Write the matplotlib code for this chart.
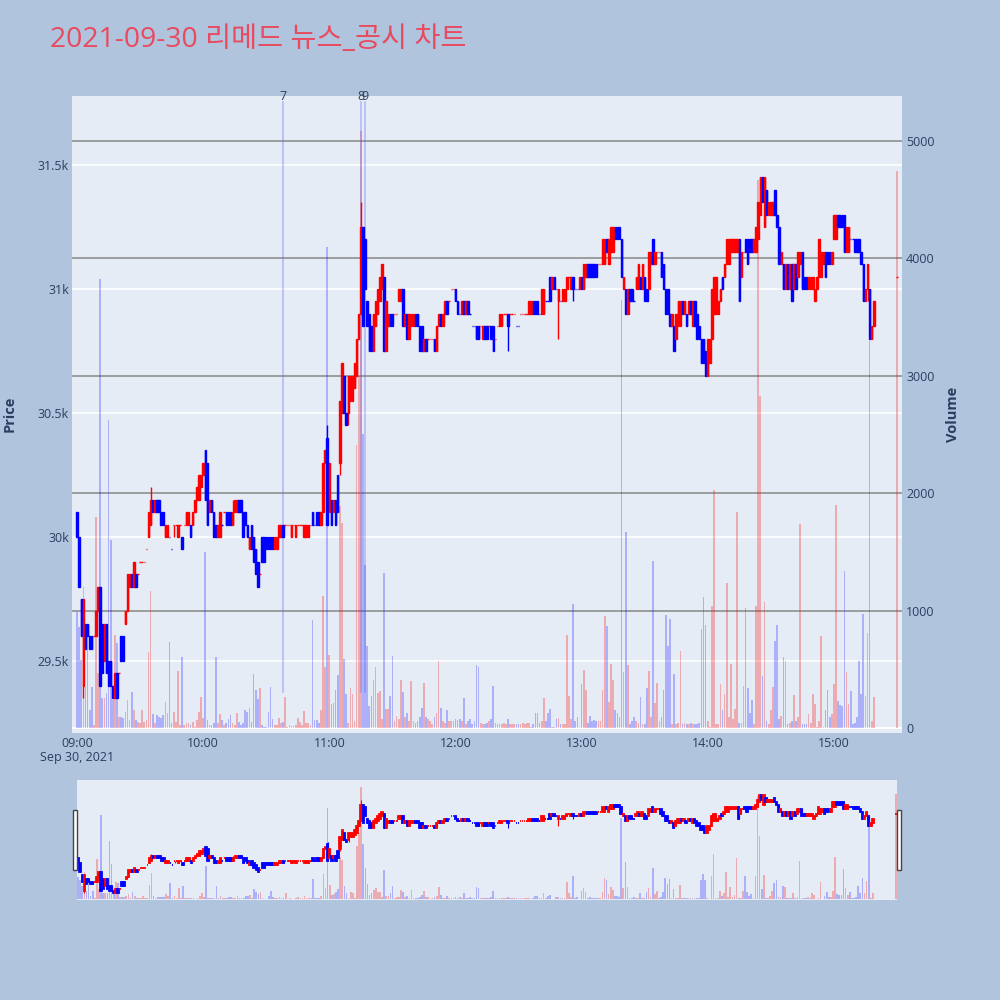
import matplotlib
matplotlib.use("Agg")
import matplotlib.pyplot as plt
import matplotlib.transforms as mtrans
from matplotlib.patches import Rectangle

plt.rcParams['font.family'] = ['Open Sans', 'Noto Sans CJK KR', 'DejaVu Sans']

# 1분봉: 09:00 부터 15:19 까지, 그리고 15:30 동시호가
minutes = list(range(380)) + [390]

opens = [
    30100, 30000, 29750, 29400, 29650, 29650, 29600, 29600, 29600, 29600,
    29700, 29800, 29650, 29500, 29650, 29500, 29500, 29400, 29350, 29450,
    29450, 29600, 29600, 29650, 29700, 29800, 29850, 29800, 29850, 29850,
    29900, 29900, 29900, 29950, 30000, 30050, 30150, 30100, 30150, 30150,
    30100, 30100, 30000, 30000, 30000, 29950, 30050, 30050, 30000, 30050,
    30000, 30050, 30050, 30050, 30050, 30050, 30100, 30150, 30150, 30200,
    30250, 30350, 30300, 30100, 30150, 30100, 30050, 30000, 30000, 30050,
    30100, 30100, 30100, 30100, 30050, 30100, 30100, 30150, 30150, 30100,
    30100, 30050, 29950, 30050, 30000, 29950, 29900, 29850, 30000, 30000,
    30000, 30000, 30000, 30000, 29950, 29950, 30000, 30000, 30050, 30050,
    30050, 30050, 30000, 30050, 30000, 30050, 30050, 30050, 30000, 30000,
    30000, 30050, 30100, 30050, 30100, 30100, 30050, 30100, 30300, 30400,
    30100, 30150, 30100, 30150, 30250, 30300, 30500, 30650, 30500, 30500,
    30550, 30550, 30600, 30650, 30800, 30900, 31250, 31200, 30950, 30900,
    30850, 30750, 30850, 30900, 30950, 31000, 31050, 30750, 30850, 30900,
    30900, 30900, 30900, 30950, 30950, 31000, 30850, 30900, 30800, 30850,
    30850, 30900, 30900, 30850, 30850, 30750, 30800, 30800, 30800, 30800,
    30800, 30750, 30850, 30900, 30850, 30900, 30950, 30950, 31000, 31000,
    31000, 30950, 30900, 30900, 30950, 30900, 30950, 30900, 30850, 30850,
    30850, 30850, 30850, 30800, 30850, 30850, 30850, 30850, 30850, 30800,
    30850, 30850, 30850, 30900, 30900, 30900, 30900, 30900, 30900, 30850,
    30850, 30900, 30900, 30900, 30900, 30900, 30900, 30950, 30950, 30950,
    30900, 30900, 30900, 30950, 30950, 31050, 31000, 31050, 31000, 30950,
    30950, 30950, 30950, 31000, 31050, 31000, 31050, 31000, 31000, 31000,
    31050, 31000, 31050, 31100, 31100, 31100, 31100, 31100, 31100, 31100,
    31100, 31100, 31200, 31100, 31150, 31150, 31250, 31250, 31250, 31200,
    31000, 31000, 30900, 31000, 31000, 30950, 31000, 31000, 31050, 31000,
    31050, 31000, 31000, 31100, 31200, 31100, 31150, 31150, 31150, 31100,
    31000, 31000, 30900, 30850, 30850, 30800, 30850, 30850, 30950, 30900,
    30900, 30900, 30950, 30850, 30950, 30900, 30850, 30800, 30800, 30750,
    30650, 30700, 30800, 30900, 30900, 30900, 30950, 31050, 31050, 31100,
    31100, 31150, 31150, 31150, 31150, 31200, 31050, 31150, 31200, 31200,
    31200, 31200, 31150, 31150, 31200, 31300, 31450, 31250, 31400, 31300,
    31300, 31300, 31400, 31300, 31250, 31100, 31100, 31000, 31100, 31000,
    31100, 31000, 31100, 31050, 31100, 31150, 31050, 31050, 31000, 31000,
    31000, 30950, 31000, 31050, 31050, 31100, 31150, 31150, 31150, 31100,
    31200, 31200, 31300, 31300, 31300, 31300, 31150, 31150, 31200, 31200,
    31200, 31200, 31200, 31150, 31100, 30950, 31000, 31000, 30800, 30850,
    31050,
]

closes = [
    30000, 29800, 29600, 29750, 29550, 29600, 29550, 29550, 29600, 29700,
    29800, 29400, 29450, 29650, 29450, 29400, 29400, 29350, 29450, 29350,
    29450, 29500, 29500, 29700, 29850, 29850, 29800, 29900, 29800, 29850,
    29900, 29900, 29900, 29950, 30100, 30150, 30100, 30150, 30100, 30100,
    30050, 30050, 30050, 30050, 30000, 29950, 30050, 30050, 30050, 30050,
    29950, 30050, 30100, 30100, 30000, 30100, 30150, 30200, 30250, 30250,
    30300, 30150, 30050, 30150, 30100, 30000, 30000, 30050, 30100, 30050,
    30100, 30050, 30050, 30050, 30100, 30150, 30150, 30100, 30100, 30000,
    30050, 30000, 30000, 29950, 29900, 29850, 29800, 29850, 29900, 29900,
    29950, 29950, 29950, 29950, 30000, 30000, 30050, 30050, 30000, 30050,
    30050, 30050, 30050, 30050, 30050, 30050, 30050, 30050, 30050, 30050,
    30050, 30050, 30050, 30050, 30050, 30050, 30100, 30300, 30350, 30050,
    30300, 30050, 30150, 30050, 30100, 30550, 30700, 30500, 30450, 30650,
    30650, 30650, 30700, 30800, 30900, 31250, 30850, 31000, 30850, 30750,
    30750, 30900, 30950, 31000, 31050, 31100, 30750, 30950, 30900, 30850,
    30850, 30900, 30900, 31000, 31000, 30850, 30900, 30800, 30900, 30900,
    30900, 30850, 30850, 30750, 30750, 30800, 30750, 30800, 30800, 30800,
    30750, 30850, 30900, 30850, 30900, 30950, 30900, 30950, 31000, 31000,
    30950, 30900, 30900, 30950, 30900, 30950, 30900, 30900, 30850, 30850,
    30800, 30800, 30850, 30850, 30800, 30800, 30850, 30800, 30750, 30800,
    30850, 30900, 30900, 30900, 30900, 30850, 30900, 30900, 30900, 30850,
    30850, 30900, 30900, 30900, 30900, 30950, 30950, 30900, 30900, 30900,
    30900, 31000, 31000, 30950, 30950, 30950, 31050, 31000, 31000, 31000,
    30950, 31000, 31000, 31050, 31050, 31050, 31000, 31000, 31000, 31050,
    31000, 31100, 31100, 31050, 31050, 31050, 31050, 31050, 31100, 31100,
    31200, 31200, 31150, 31200, 31250, 31250, 31200, 31200, 31200, 31050,
    31050, 30900, 31000, 30950, 30950, 30950, 31050, 31100, 31000, 31100,
    30950, 30950, 31150, 31150, 31100, 31150, 31150, 31150, 31050, 31000,
    30900, 30900, 30850, 30900, 30750, 30900, 30950, 30950, 30900, 30950,
    30850, 30950, 30900, 30950, 30850, 30800, 30800, 30700, 30700, 30650,
    30800, 30800, 31000, 31050, 31050, 30950, 31000, 31000, 31100, 31200,
    31200, 31200, 31200, 31200, 31200, 30950, 31150, 31150, 31150, 31100,
    31150, 31150, 31200, 31250, 31350, 31450, 31350, 31450, 31300, 31350,
    31350, 31350, 31300, 31250, 31100, 31150, 31000, 31100, 31000, 31100,
    30950, 31100, 31000, 31150, 31150, 31000, 31000, 31000, 31050, 31050,
    31050, 31000, 31050, 31200, 31150, 31150, 31050, 31100, 31100, 31150,
    31300, 31300, 31250, 31250, 31250, 31150, 31250, 31250, 31200, 31200,
    31150, 31150, 31150, 31100, 30950, 31000, 31100, 30800, 30850, 30950,
    31050,
]

# 꼬리 (몸통 밖으로 나간 고가 / 저가)
high_wicks = {3: 29750, 35: 30200, 74: 30150, 119: 30450, 135: 31350}
low_wicks = {3: 29350, 46: 30000, 125: 30250, 129: 30450, 205: 30750,
             229: 30800, 236: 30950, 376: 30950}

volumes = [
    985, 860, 580, 1204, 352, 800, 150, 352, 25, 1800,
    466, 3820, 253, 253, 295, 2624, 1600, 238, 792, 721,
    96, 96, 82, 140, 238, 68, 310, 153, 68, 54,
    40, 153, 54, 68, 650, 1167, 116, 40, 110, 96,
    82, 110, 224, 125, 730, 40, 139, 54, 489, 25,
    608, 25, 40, 45, 25, 54, 10, 68, 139, 267,
    82, 1500, 68, 25, 25, 40, 608, 40, 120, 68,
    25, 45, 74, 110, 40, 25, 125, 54, 25, 40,
    153, 139, 167, 54, 460, 324, 247, 338, 25, 12,
    12, 139, 346, 74, 25, 25, 82, 45, 54, 267,
    12, 25, 18, 18, 25, 82, 54, 25, 148, 40,
    45, 25, 920, 68, 68, 40, 153, 1120, 515, 4100,
    619, 202, 210, 323, 452, 1888, 1749, 584, 290, 40,
    340, 290, 60, 2410, 3000, 5087, 2500, 1390, 700, 184,
    271, 410, 515, 300, 313, 80, 1321, 160, 160, 270,
    612, 60, 100, 80, 410, 306, 95, 130, 60, 400,
    60, 45, 60, 95, 170, 382, 95, 80, 60, 30,
    95, 130, 567, 170, 60, 45, 150, 60, 60, 60,
    80, 70, 80, 60, 254, 35, 60, 80, 30, 60,
    532, 515, 45, 30, 30, 45, 60, 80, 358, 45,
    30, 30, 30, 45, 30, 80, 30, 35, 30, 30,
    30, 30, 45, 30, 45, 45, 10, 30, 125, 130,
    45, 60, 254, 60, 130, 165, 10, 10, 80, 87,
    30, 30, 35, 793, 271, 80, 1054, 60, 90, 10,
    375, 490, 323, 45, 104, 60, 70, 60, 60, 60,
    323, 950, 870, 219, 549, 410, 150, 130, 90, 3646,
    480, 1669, 532, 30, 60, 95, 60, 45, 264, 30,
    35, 340, 487, 95, 1425, 212, 382, 60, 95, 323,
    966, 695, 925, 30, 462, 30, 45, 653, 35, 45,
    35, 30, 45, 35, 30, 35, 45, 845, 1113, 876,
    60, 10, 1036, 2027, 30, 30, 375, 150, 289, 1238,
    95, 549, 80, 165, 1836, 45, 45, 358, 1026, 340,
    130, 236, 35, 1036, 4670, 2830, 445, 1071, 60, 30,
    150, 348, 740, 880, 80, 100, 601, 567, 30, 45,
    60, 278, 60, 95, 1738, 30, 30, 30, 115, 45,
    289, 202, 10, 60, 786, 10, 150, 323, 95, 115,
    375, 1895, 226, 195, 191, 1339, 480, 202, 313, 30,
    45, 95, 574, 289, 974, 271, 810, 3296, 60, 264,
    4745,
]

tick_minutes = [0, 60, 120, 180, 240, 300, 360]
tick_labels = ['09:00', '10:00', '11:00', '12:00', '13:00', '14:00', '15:00']
price_ticks = [29500, 30000, 30500, 31000, 31500]
price_labels = ['29.5k', '30k', '30.5k', '31k', '31.5k']
volume_ticks = [0, 1000, 2000, 3000, 4000, 5000]

# 뉴스/공시 시점
news_minutes = [98, 135, 137]
news_labels = ['7', '8', '9']

highs = [max(o, c, high_wicks.get(i, 0)) for i, (o, c) in enumerate(zip(opens, closes))]
lows = [min(o, c, low_wicks.get(i, 10 ** 9)) for i, (o, c) in enumerate(zip(opens, closes))]

# 상승 빨강, 하락 파랑 (보합이면 직전 종가와 비교)
up = []
prev_close = None
for o, c in zip(opens, closes):
    if c > o:
        d = True
    elif c < o:
        d = False
    elif prev_close is None or c == prev_close:
        d = up[-1] if up else True
    else:
        d = c > prev_close
    up.append(d)
    prev_close = c

candle_cols = ['#ff0000' if u else '#0000ff' for u in up]
vol_cols = [(1, 0, 0, 0.28) if u else (0, 0, 1, 0.25) for u in up]
body_bottom = [min(o, c) for o, c in zip(opens, closes)]
body_height = [abs(c - o) for o, c in zip(opens, closes)]

PRICE_LIM = (29210, 31778)
VOL_LIM = (-43, 5383)
TXT = '#2a3f5f'
BG = '#e5ecf6'


def draw(ax_v, ax_p, body_lw, wick_lw):
    ax_v.bar(minutes, volumes, width=0.8, color=vol_cols, linewidth=0, zorder=2)
    ax_p.vlines(minutes, lows, highs, colors=candle_cols, linewidth=wick_lw, zorder=3)
    ax_p.bar(minutes, body_height, bottom=body_bottom, width=0.7, color=candle_cols,
             edgecolor=candle_cols, linewidth=body_lw, zorder=4)
    ax_v.set_ylim(*VOL_LIM)
    ax_p.set_ylim(*PRICE_LIM)
    for a in (ax_v, ax_p):
        for s in a.spines.values():
            s.set_visible(False)


fig = plt.figure(figsize=(10, 10), dpi=100, facecolor='#b0c4de')

# 메인 차트
ax_v = fig.add_axes([0.072, 0.267, 0.830, 0.637], facecolor=BG)
ax_p = ax_v.twinx()
draw(ax_v, ax_p, 1.0, 1.0)
ax_v.set_xlim(-2.4, 392.4)

# 격자: 가격은 흰색, 거래량은 회색
blend = mtrans.blended_transform_factory(ax_v.transAxes, ax_p.transData)
for p in price_ticks:
    ax_v.plot([0, 1], [p, p], transform=blend, color='white', lw=1.2, zorder=1)
for v in volume_ticks[1:]:
    ax_v.axhline(v, color='#8f8f8f', lw=1.2, zorder=1.5)
ax_v.axhline(0, color='white', lw=1.5, zorder=1.5)

ax_v.yaxis.tick_right()
ax_v.set_yticks(volume_ticks)
ax_v.set_yticklabels([str(v) for v in volume_ticks])
ax_p.yaxis.tick_left()
ax_p.set_yticks(price_ticks)
ax_p.set_yticklabels(price_labels)
ax_v.set_xticks(tick_minutes)
ax_v.set_xticklabels(tick_labels)
ax_v.tick_params(axis='y', length=0, pad=3, labelsize=9, labelcolor=TXT)
ax_v.tick_params(axis='x', length=0, pad=3, labelsize=9, labelcolor=TXT)
ax_p.tick_params(axis='y', length=0, pad=2, labelsize=9, labelcolor=TXT)

# 뉴스 표시선
for m, lab in zip(news_minutes, news_labels):
    ax_v.plot([m, m], [0.064, 0.99], transform=ax_v.get_xaxis_transform(),
              color=(0.35, 0.4, 0.95, 0.4), lw=1.1, zorder=5)
    ax_v.text(m, 1.0, lab, transform=ax_v.get_xaxis_transform(), ha='center', va='center',
              fontsize=9, color=TXT, zorder=6)

fig.text(0.077, 1 - 0.757, 'Sep 30, 2021', ha='center', va='center', fontsize=9, color=TXT)
fig.text(0.010, 1 - 0.414, 'Price', rotation=90, ha='center', va='center',
         fontsize=10.5, fontweight='bold', color=TXT)
fig.text(0.953, 1 - 0.414, 'Volume', rotation=90, ha='center', va='center',
         fontsize=10.5, fontweight='bold', color=TXT)
fig.text(0.050, 1 - 0.040, '2021-09-30 리메드 뉴스_공시 차트', ha='left', va='center',
         fontsize=20.4, color='#e84a5f')

# 하단 범위 슬라이더
ax_sv = fig.add_axes([0.077, 0.100, 0.820, 0.120], facecolor=BG)
ax_sp = ax_sv.twinx()
draw(ax_sv, ax_sp, 1.3, 0.8)
ax_sv.set_xlim(-0.5, 390.5)
for a in (ax_sv, ax_sp):
    a.set_xticks([])
    a.set_yticks([])
for x0 in (0.073, 0.897):
    fig.add_artist(Rectangle((x0, 0.130), 0.004, 0.060, transform=fig.transFigure,
                             facecolor='white', edgecolor='#444444', lw=1.0))

fig.savefig('out.png', dpi=100, facecolor=fig.get_facecolor())
